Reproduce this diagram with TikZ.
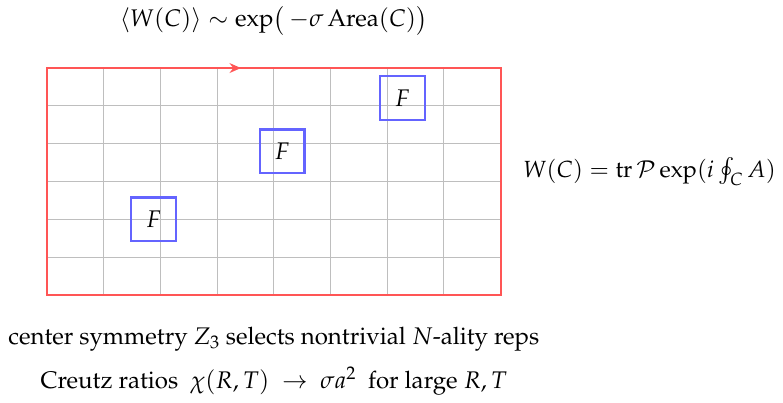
\documentclass[tikz,border=0pt]{standalone}
\usepackage[T1]{fontenc}
\usepackage{amsmath,amssymb}
\usepackage{mathpazo}
\usepackage{xcolor}
\usetikzlibrary{arrows.meta, positioning}
\definecolor{loopred}{RGB}{255,85,85}
\definecolor{plaqblue}{RGB}{100,100,255}
\definecolor{latgray}{RGB}{190,190,190}

\begin{document}
\begin{tikzpicture}[
    every node/.style={font=\fontsize{18.1}{22}\selectfont},
    gridline/.style={latgray, line width=0.8pt},
    loopline/.style={loopred, line width=1.5pt},
    plaq/.style={rectangle, draw=plaqblue, line width=1.7pt, minimum width=1.18cm, minimum height=1.15cm, inner sep=0pt},
    note/.style={align=center, inner sep=1pt}
]
\useasboundingbox (-1.243,-2.857) rectangle (19.47,7.80);

% lattice and Wilson loop
\draw[gridline, xstep=1.5, ystep=1] (0,0) grid (12,6);
\draw[loopline] (0,0) rectangle (12,6);
\draw[loopline, -{Stealth[length=3mm, width=2.6mm]}] (4.6,6) -- (5.13,6);

% plaquettes
\node[plaq] (f1) at (2.82,2.0) {$F$};
\node[plaq] (f2) at (6.22,3.80) {$F$};
\node[plaq] (f3) at (9.40,5.21) {$F$};

% formulas
\node[note] (area) at (6,7.25) {$\langle W(C)\rangle \sim \exp\bigl(\,-\sigma\,\mathrm{Area}(C)\bigr)$};
\node[note, anchor=west, font=\fontsize{17.6}{22}\selectfont] (wdef) at (12.56,3.25) {$W(C) = \mathrm{tr}\,\mathcal{P}\exp(i\oint_C A)$};
\node[note] (center) at (6,-1.16) {center symmetry $Z_3$ selects nontrivial $N$-ality reps};
\node[note] (creutz) at (6,-2.28) {Creutz ratios \ $\chi(R,T)\ \to\ \sigma a^2$\ \ for large $R,T$};

\end{tikzpicture}
\end{document}
